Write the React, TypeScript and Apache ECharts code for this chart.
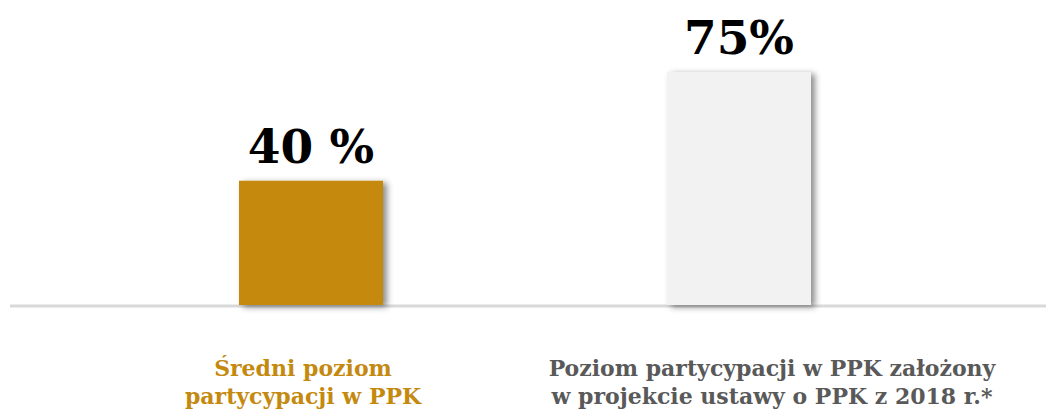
import React, { useEffect, useRef } from "react";
import * as echarts from "echarts";

const categories: string[] = [
  "Średni poziom\npartycypacji w PPK",
  "Poziom partycypacji w PPK założony\nw projekcie ustawy o PPK z 2018 r.*",
];
const values: number[] = [40, 75];
const valueLabels: string[] = ["40 %", "75%"];
const barColors: string[] = ["#C4890F", "#F2F2F2"];
const labelStyles: string[] = ["a", "b"];

export default function App() {
  const ref = useRef<HTMLDivElement>(null);
  useEffect(() => {
    if (!ref.current) return;
    const chart = echarts.init(ref.current, null, { renderer: "svg" });
    chart.setOption({
      animation: false,
      backgroundColor: "#ffffff",
      grid: { left: 97, right: 93, top: 10, bottom: 112 },
      xAxis: {
        type: "category",
        data: categories,
        axisLine: { show: false },
        axisTick: { show: false },
        axisLabel: {
          margin: 49,
          interval: 0,
          formatter: (v: string, i: number) =>
            v
              .split("\n")
              .map((line) => `{${labelStyles[i]}|${line}}`)
              .join("\n"),
          rich: {
            a: {
              color: "#C4890F",
              fontFamily: "DejaVu Serif",
              fontWeight: "bold",
              fontSize: 22,
              lineHeight: 28,
              padding: [0, 16, 0, 0],
            },
            b: {
              color: "#595959",
              fontFamily: "DejaVu Serif",
              fontWeight: "bold",
              fontSize: 22,
              lineHeight: 28,
              padding: [0, 0, 0, 66],
            },
          },
        },
      },
      yAxis: {
        type: "value",
        min: 0,
        max: 95,
        show: false,
        splitLine: { show: false },
      },
      graphic: [
        {
          type: "line",
          shape: { x1: 10, y1: 306, x2: 1046, y2: 306 },
          style: { stroke: "#D9D9D9", lineWidth: 3 },
          z: 0,
        },
      ],
      series: [
        {
          type: "bar",
          barWidth: 144,
          z: 2,
          data: values.map((v, i) => ({
            value: v,
            itemStyle: {
              color: barColors[i],
              shadowColor: "rgba(0,0,0,0.45)",
              shadowBlur: 6,
              shadowOffsetX: 4,
              shadowOffsetY: 2,
            },
          })),
          label: {
            show: true,
            position: "top",
            distance: 11,
            formatter: (p: any) => valueLabels[p.dataIndex],
            color: "#000000",
            fontFamily: "DejaVu Serif",
            fontWeight: "bold",
            fontSize: 47,
          },
        },
      ],
    });
    return () => chart.dispose();
  }, []);
  return (
    <div
      ref={ref}
      style={{ position: "fixed", left: 0, top: 0, width: 1046, height: 417 }}
    />
  );
}
